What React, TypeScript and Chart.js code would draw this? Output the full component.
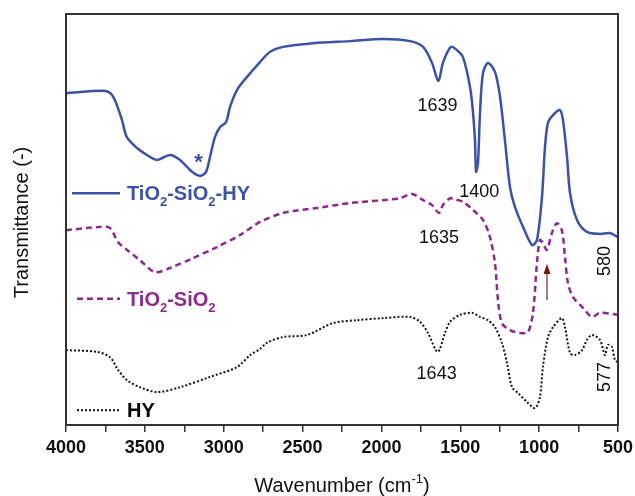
import React, { useEffect, useRef } from "react";
import { Chart, registerables } from "chart.js";

Chart.register(...registerables);

// ---------- data (transmittance in arbitrary units, 0..100) ----------
const tshyWavenumber = [4000, 3765, 3720, 3690, 3645, 3615, 3550, 3487, 3423, 3340, 3277, 3200, 3150, 3112, 3087, 3055, 3023, 2985, 2960, 2916, 2852, 2770, 2706, 2624, 2434, 2200, 1990, 1818, 1736, 1679, 1639, 1610, 1560, 1521, 1483, 1438, 1419, 1407, 1400, 1388, 1375, 1356, 1324, 1280, 1248, 1217, 1185, 1153, 1102, 1045, 1014, 982, 963, 944, 912, 868, 849, 823, 804, 760, 697, 614, 551, 500];
const tshyT = [80.8, 81.3, 80.8, 79.1, 74.2, 70.1, 67.4, 65.7, 64.5, 65.7, 64.5, 61.6, 60.6, 61.6, 65.2, 70.1, 72.5, 73.7, 77.4, 81.5, 84.7, 88.3, 90.8, 92.0, 92.9, 93.4, 93.9, 93.4, 92.0, 88.1, 83.7, 88.1, 92.0, 91.2, 89.5, 82.2, 75.9, 69.3, 61.6, 63.7, 75.9, 85.6, 88.1, 85.9, 79.8, 69.3, 57.9, 53.0, 48.2, 43.8, 45.0, 55.5, 67.6, 73.5, 75.4, 76.6, 74.2, 65.2, 56.4, 49.9, 47.0, 46.5, 46.7, 45.7];

const tsWavenumber = [4000, 3784, 3721, 3670, 3613, 3531, 3436, 3341, 3195, 3043, 2897, 2770, 2624, 2408, 2200, 1990, 1882, 1806, 1736, 1679, 1635, 1610, 1565, 1546, 1483, 1419, 1356, 1312, 1280, 1261, 1236, 1185, 1121, 1071, 1039, 1014, 995, 976, 951, 919, 887, 856, 836, 817, 785, 722, 665, 614, 500];
const tsT = [47.4, 48.2, 47.9, 44.5, 42.6, 40.1, 37.2, 38.2, 40.6, 43.3, 46.2, 49.4, 51.6, 52.8, 54.0, 54.7, 55.2, 56.2, 54.7, 53.5, 51.6, 53.5, 55.2, 55.0, 54.3, 52.3, 49.9, 45.7, 39.4, 30.4, 24.8, 23.1, 22.4, 22.6, 27.3, 39.4, 45.0, 44.3, 42.6, 46.7, 49.1, 47.4, 40.9, 34.5, 31.1, 28.5, 26.3, 27.3, 26.8];

const hyWavenumber = [4000, 3803, 3721, 3670, 3613, 3531, 3423, 3277, 3087, 2916, 2833, 2770, 2726, 2624, 2472, 2307, 2155, 1990, 1818, 1755, 1705, 1643, 1597, 1565, 1502, 1426, 1375, 1324, 1280, 1236, 1204, 1172, 1134, 1077, 1026, 995, 976, 944, 912, 856, 836, 804, 773, 728, 697, 665, 614, 583, 564, 538, 519, 500];
const hyT = [18.2, 17.8, 16.5, 13.4, 10.9, 9.2, 8.0, 9.2, 11.7, 14.1, 17.0, 18.5, 20.0, 21.4, 21.9, 24.8, 25.5, 26.0, 26.3, 25.1, 22.4, 17.8, 22.4, 25.1, 26.8, 27.3, 26.3, 25.5, 23.8, 20.0, 15.1, 9.2, 7.8, 5.6, 4.1, 6.8, 14.1, 21.4, 23.8, 26.0, 23.8, 17.5, 17.0, 18.2, 20.7, 21.9, 20.7, 17.0, 19.5, 19.0, 15.8, 15.3];

const xTicksMajor = [4000, 3500, 3000, 2500, 2000, 1500, 1000, 500];
const peakLabels = ["1639", "1400", "1635", "1643", "580", "577"];

const BLUE = "#3B53A6";
const PURPLE = "#8C2A8C";
const BLACK = "#141414";
const FRAME = "#333333";
const FONT = "'Liberation Sans', Arial, Helvetica, sans-serif";

function pairs(xs: number[], ys: number[]) {
  return xs.map((x, i) => ({ x, y: ys[i] }));
}

function drawChem(ctx: CanvasRenderingContext2D, x: number, y: number, parts: [string, boolean][], size: number, color: string) {
  ctx.save();
  ctx.fillStyle = color;
  ctx.textBaseline = "alphabetic";
  ctx.textAlign = "left";
  let cx = x;
  for (const [t, sub] of parts) {
    if (sub) {
      ctx.font = `bold ${Math.round(size * 0.65)}px ${FONT}`;
      ctx.fillText(t, cx, y + size * 0.3);
    } else {
      ctx.font = `bold ${size}px ${FONT}`;
      ctx.fillText(t, cx, y);
    }
    cx += ctx.measureText(t).width;
  }
  ctx.restore();
}

const overlayPlugin = {
  id: "overlay",
  afterDraw(chart: any) {
    const ctx: CanvasRenderingContext2D = chart.ctx;
    const a = chart.chartArea;
    const xs = chart.scales.x;
    const ys = chart.scales.y;
    ctx.save();

    // frame
    ctx.strokeStyle = FRAME;
    ctx.lineWidth = 2;
    ctx.strokeRect(a.left, a.top, a.right - a.left, a.bottom - a.top);

    // legend entries
    const lx1 = a.left + 6;
    const lx2 = a.left + 54;
    const tx = a.left + 61;
    const legendRows: { y: number; color: string; dash: number[]; w: number; parts: [string, boolean][] }[] = [
      { y: ys.getPixelForValue(56.4), color: BLUE, dash: [], w: 2.5, parts: [["TiO", false], ["2", true], ["-SiO", false], ["2", true], ["-HY", false]] },
      { y: ys.getPixelForValue(30.7), color: PURPLE, dash: [6, 4], w: 2.5, parts: [["TiO", false], ["2", true], ["-SiO", false], ["2", true]] },
      { y: ys.getPixelForValue(3.6), color: BLACK, dash: [2, 2], w: 2, parts: [["HY", false]] },
    ];
    for (const r of legendRows) {
      ctx.beginPath();
      ctx.strokeStyle = r.color;
      ctx.lineWidth = r.w;
      ctx.setLineDash(r.dash);
      ctx.moveTo(r.dash.length ? lx1 + 5 : lx1, r.y);
      ctx.lineTo(lx2, r.y);
      ctx.stroke();
      ctx.setLineDash([]);
      drawChem(ctx, tx, r.y + 7, r.parts, 20, r.color === BLACK ? "#000" : r.color);
    }

    // asterisk
    ctx.fillStyle = BLUE;
    ctx.font = `bold 22px ${FONT}`;
    ctx.textAlign = "center";
    ctx.textBaseline = "alphabetic";
    ctx.fillText("*", xs.getPixelForValue(3160), ys.getPixelForValue(60.6) - 7);

    // peak labels
    ctx.fillStyle = "#111";
    ctx.font = `18px ${FONT}`;
    ctx.textAlign = "center";
    ctx.fillText(peakLabels[0], xs.getPixelForValue(1645), ys.getPixelForValue(76.4));
    ctx.fillText(peakLabels[1], xs.getPixelForValue(1380), ys.getPixelForValue(55.5));
    ctx.fillText(peakLabels[2], xs.getPixelForValue(1635), ys.getPixelForValue(44.3));
    ctx.fillText(peakLabels[3], xs.getPixelForValue(1650), ys.getPixelForValue(11.2));

    // rotated labels
    const rot = (t: string, wn: number, v: number) => {
      ctx.save();
      ctx.translate(xs.getPixelForValue(wn), ys.getPixelForValue(v));
      ctx.rotate(-Math.PI / 2);
      ctx.textAlign = "center";
      ctx.textBaseline = "middle";
      ctx.fillText(t, 0, 0);
      ctx.restore();
    };
    rot(peakLabels[4], 585, 39.9);
    rot(peakLabels[5], 585, 11.7);

    // arrow
    const ax = xs.getPixelForValue(950);
    const ay1 = ys.getPixelForValue(30.4);
    const ay2 = ys.getPixelForValue(39.2);
    ctx.strokeStyle = "#8B1C1C";
    ctx.fillStyle = "#7A1010";
    ctx.lineWidth = 1.2;
    ctx.beginPath();
    ctx.moveTo(ax, ay1);
    ctx.lineTo(ax, ay2 + 8);
    ctx.stroke();
    ctx.beginPath();
    ctx.moveTo(ax, ay2);
    ctx.lineTo(ax - 3.5, ay2 + 10);
    ctx.lineTo(ax + 3.5, ay2 + 10);
    ctx.closePath();
    ctx.fill();

    // axis titles
    ctx.fillStyle = "#111";
    ctx.font = `20px ${FONT}`;
    ctx.textAlign = "left";
    ctx.textBaseline = "alphabetic";
    const t1 = "Wavenumber (cm";
    const sup = "-1";
    const t3 = ")";
    const w1 = ctx.measureText(t1).width;
    ctx.font = `13px ${FONT}`;
    const w2 = ctx.measureText(sup).width;
    ctx.font = `20px ${FONT}`;
    const w3 = ctx.measureText(t3).width;
    const total = w1 + w2 + w3;
    let cx = (a.left + a.right) / 2 - total / 2;
    const by = 492;
    ctx.fillText(t1, cx, by);
    cx += w1;
    ctx.font = `13px ${FONT}`;
    ctx.fillText(sup, cx, by - 9);
    cx += w2;
    ctx.font = `20px ${FONT}`;
    ctx.fillText(t3, cx, by);

    ctx.save();
    ctx.translate(22, (a.top + a.bottom) / 2 + 3);
    ctx.rotate(-Math.PI / 2);
    ctx.textAlign = "center";
    ctx.textBaseline = "middle";
    ctx.fillText("Transmittance (-)", 0, 0);
    ctx.restore();

    ctx.restore();
  },
};

export default function App() {
  const ref = useRef<HTMLCanvasElement | null>(null);
  useEffect(() => {
    if (!ref.current) return;
    const chart = new Chart(ref.current, {
      type: "line",
      data: {
        datasets: [
          {
            label: "TiO2-SiO2-HY",
            data: pairs(tshyWavenumber, tshyT),
            borderColor: BLUE,
            borderWidth: 2.5,
            pointRadius: 0,
            tension: 0.3,
            fill: false,
          },
          {
            label: "TiO2-SiO2",
            data: pairs(tsWavenumber, tsT),
            borderColor: PURPLE,
            borderWidth: 2.5,
            borderDash: [6, 4],
            pointRadius: 0,
            tension: 0.3,
            fill: false,
          },
          {
            label: "HY",
            data: pairs(hyWavenumber, hyT),
            borderColor: BLACK,
            borderWidth: 2,
            borderDash: [2, 2],
            pointRadius: 0,
            tension: 0.3,
            fill: false,
          },
        ],
      },
      options: {
        responsive: false,
        animation: false,
        layout: { padding: { top: 14, right: 17, left: 0, bottom: 0 } },
        plugins: { legend: { display: false }, tooltip: { enabled: false } },
        scales: {
          x: {
            type: "linear",
            min: 500,
            max: 4000,
            reverse: true,
            afterFit: (s: any) => {
              s.height = 71;
              s.paddingLeft = 0;
              s.paddingRight = 0;
            },
            border: { display: false },
            grid: { drawOnChartArea: false, drawTicks: true, tickLength: 7, color: FRAME, lineWidth: 1.5 },
            ticks: {
              stepSize: 250,
              autoSkip: false,
              maxRotation: 0,
              padding: 5,
              color: "#111",
              font: { family: FONT, size: 18, weight: "bold" },
              callback: (v: any) => (xTicksMajor.includes(Number(v)) ? String(v) : ""),
            },
          },
          y: {
            min: 0,
            max: 100,
            afterFit: (s: any) => {
              s.width = 66;
            },
            border: { display: false },
            grid: { display: false },
            ticks: { display: false },
          },
        },
      },
      plugins: [overlayPlugin],
    } as any);
    return () => chart.destroy();
  }, []);
  return (
    <div style={{ position: "fixed", left: 0, top: 0, width: 635, height: 496, background: "#fff" }}>
      <canvas ref={ref} width={635} height={496} />
    </div>
  );
}
